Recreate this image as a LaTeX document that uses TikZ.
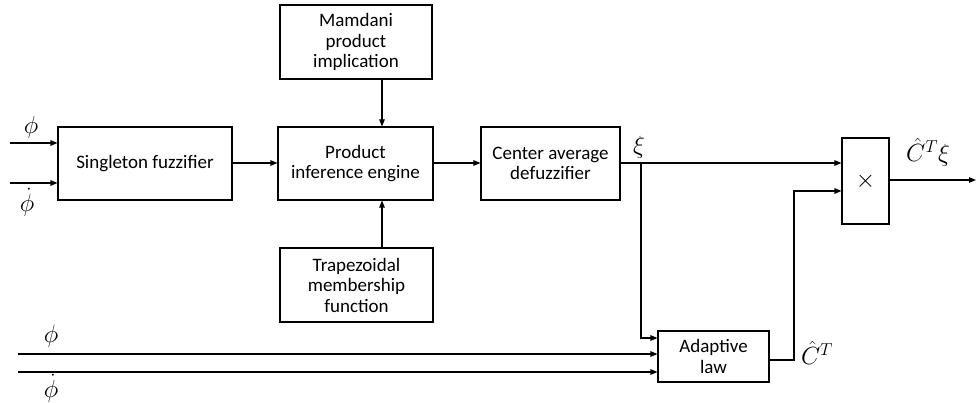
\documentclass[tikz,border=0pt]{standalone}
\usepackage{fontspec}
\setmainfont{Carlito}
\usetikzlibrary{arrows.meta,calc}
\begin{document}
\begin{tikzpicture}[x=1pt,y=-1pt,
  blk/.style={draw,line width=1.1pt,align=center,inner sep=0pt,
    font=\fontsize{19}{20.5}\selectfont},
  con/.style={line width=1.1pt,-{Triangle[length=7pt,width=5.5pt]}},
  lbl/.style={inner sep=0pt,font=\fontsize{24}{26}\selectfont}]
\useasboundingbox (0,0) rectangle (976,403);
% blocks
\node[blk,minimum width=174pt,minimum height=73pt] (sf) at (145,163.5) {Singleton fuzzifier};
\node[blk,minimum width=155pt,minimum height=73pt] (pie) at (355.5,163.5) {Product\\inference engine};
\node[blk,minimum width=152pt,minimum height=74pt] (mam) at (356,42) {Mamdani\\product\\implication};
\node[blk,minimum width=153pt,minimum height=74pt] (trap) at (356.5,285) {Trapezoidal\\membership\\function};
\node[blk,minimum width=139pt,minimum height=73pt] (cad) at (550.5,163.5) {Center average\\defuzzifier};
\node[blk,minimum width=47pt,minimum height=86pt,font=\fontsize{32}{32}\selectfont] (mult) at (865.5,181) {$\times$};
\node[blk,minimum width=111pt,minimum height=51pt] (al) at (713.5,356.5) {Adaptive\\law};
% helper coordinates
\coordinate (in1) at (10,143);
\coordinate (in2) at (10,183);
\coordinate (vx) at (382,0);
\coordinate (br) at (641,163);
\coordinate (bin1) at (18,354);
\coordinate (bin2) at (18,372);
\coordinate (ca) at (794,360);
\coordinate (cb) at (794,191);
\coordinate (out) at (976,180);
% connectors
\draw[con] (in1) -- (in1 -| sf.west);
\draw[con] (in2) -- (in2 -| sf.west);
\draw[con] (sf.east |- 0,163) -- (pie.west |- 0,163);
\draw[con] (mam.south -| vx) -- (pie.north -| vx);
\draw[con] (trap.north -| vx) -- (pie.south -| vx);
\draw[con] (pie.east |- 0,163) -- (cad.west |- 0,163);
\draw[con] (cad.east |- br) -- (mult.west |- br);
\draw[con] (br) -- (br |- 0,338) -- (al.west |- 0,338);
\draw[con] (bin1) -- (bin1 -| al.west);
\draw[con] (bin2) -- (bin2 -| al.west);
\draw[con] (al.east |- ca) -- (ca) -- (cb) -- (mult.west |- cb);
\draw[con] (mult.east |- out) -- (out);
% labels
\node[lbl] (l1) at (31,127) {$\phi$};
\node[lbl] (l2) at (27,202) {$\dot\phi$};
\node[lbl] (l3) at (639,147) {$\xi$};
\node[lbl] (l4) at (928,152) {$\hat{C}^T\xi$};
\node[lbl] (l5) at (817,353) {$\hat{C}^T$};
\node[lbl] (l6) at (51,336) {$\phi$};
\node[lbl] (l7) at (51,388) {$\dot\phi$};
\end{tikzpicture}
\end{document}
